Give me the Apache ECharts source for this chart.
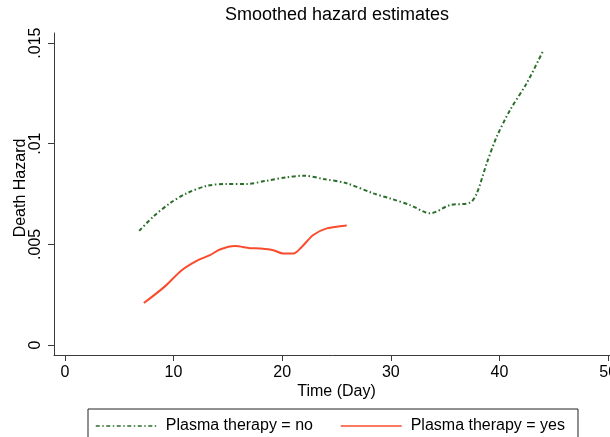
<!DOCTYPE html>
<html>
<head>
<meta charset="utf-8">
<script src="https://cdn.jsdelivr.net/npm/echarts@6/dist/echarts.min.js"></script>
<style>
  html, body { margin: 0; padding: 0; background: #fff; }
  #chart { width: 610px; height: 437px; }
</style>
</head>
<body>
<div id="chart"></div>
<script>
// smoothed hazard, no plasma therapy
var noDays = [6.84, 8.13, 9.67, 11.2, 13.05, 14.89, 16.73, 18.57, 20.41, 21.94, 23.78, 25.94, 28.39, 29.93, 31.77, 33.61, 35.45, 37.29, 37.91, 38.83, 39.75, 40.98, 42.51, 43.99];
var noHazard = [0.00567, 0.00637, 0.00704, 0.00753, 0.0079, 0.008, 0.008, 0.00816, 0.00833, 0.00841, 0.00825, 0.00803, 0.00753, 0.00728, 0.00695, 0.00654, 0.00695, 0.00707, 0.00753, 0.00903, 0.01035, 0.01168, 0.01301, 0.01459];

// smoothed hazard, plasma therapy
var yesDays = [7.27, 9.21, 10.75, 12.13, 13.35, 14.27, 15.65, 17.03, 17.96, 19.18, 20.1, 21.03, 21.8, 22.86, 24.1, 25.94];
var yesHazard = [0.00208, 0.00291, 0.00371, 0.00418, 0.00446, 0.00474, 0.00491, 0.00481, 0.00479, 0.00471, 0.00454, 0.00454, 0.00487, 0.00546, 0.00579, 0.00594];

var xTicks = [0, 10, 20, 30, 40, 50];
var yTicks = [0, 0.005, 0.01, 0.015];
var yTickLabels = ['0', '.005', '.01', '.015'];

function pairs(xs, ys) {
  var out = [];
  for (var i = 0; i < xs.length; i++) out.push([xs[i], ys[i]]);
  return out;
}

var font = '"Liberation Sans", Arial, sans-serif';
var axisGrey = '#3a3a3a';

var chart = echarts.init(document.getElementById('chart'));
chart.setOption({
  backgroundColor: '#fff',
  animation: false,
  title: {
    text: 'Smoothed hazard estimates',
    left: 225,
    top: 6,
    padding: 0,
    textStyle: { fontFamily: font, fontSize: 18, fontWeight: 'normal', color: '#000' }
  },
  legend: {
    left: 88,
    top: 409,
    padding: [9, 13, 14, 7],
    itemGap: 27,
    itemWidth: 61,
    itemHeight: 10,
    borderColor: '#222',
    borderWidth: 1,
    itemStyle: { opacity: 0 },
    lineStyle: { width: 1.5 },
    textStyle: { fontFamily: font, fontSize: 16, color: '#000', padding: [0, 0, 0, 4] },
    data: ['Plasma therapy = no', 'Plasma therapy = yes']
  },
  grid: { left: 54, top: 33, width: 565, height: 322, outerBoundsMode: 'none' },
  xAxis: {
    type: 'value',
    min: -1,
    max: 51,
    name: 'Time (Day)',
    nameLocation: 'middle',
    nameGap: 29,
    nameMoveOverlap: false,
    nameTextStyle: { fontFamily: font, fontSize: 16, color: '#000' },
    axisLine: { onZero: false, lineStyle: { color: axisGrey, width: 1 } },
    axisTick: { customValues: xTicks, length: 6, lineStyle: { color: axisGrey } },
    axisLabel: { customValues: xTicks, margin: 10, fontFamily: font, fontSize: 16, color: '#000' },
    splitLine: { show: false }
  },
  yAxis: {
    type: 'value',
    min: -0.0005,
    max: 0.0155,
    name: 'Death Hazard',
    nameLocation: 'middle',
    nameRotate: 90,
    nameGap: 25,
    nameMoveOverlap: false,
    nameTextStyle: { fontFamily: font, fontSize: 16, color: '#000', padding: [0, 0, 0, 12] },
    axisLine: { onZero: false, lineStyle: { color: axisGrey, width: 1 } },
    axisTick: { customValues: yTicks, length: 6, lineStyle: { color: axisGrey } },
    axisLabel: {
      customValues: yTicks,
      rotate: 90,
      margin: 10,
      fontFamily: font,
      fontSize: 16,
      color: '#000',
      formatter: function (v) {
        var i = yTicks.indexOf(v);
        return i >= 0 ? yTickLabels[i] : '';
      }
    },
    splitLine: { show: false }
  },
  series: [
    {
      name: 'Plasma therapy = no',
      type: 'line',
      data: pairs(noDays, noHazard),
      symbol: 'none',
      smooth: 0.3,
      color: '#2a6e2a',
      lineStyle: { color: '#2a6e2a', width: 2, type: [4, 2.5, 1.5, 2.5] }
    },
    {
      name: 'Plasma therapy = yes',
      type: 'line',
      data: pairs(yesDays, yesHazard),
      symbol: 'none',
      smooth: 0.3,
      color: '#fa4b2c',
      lineStyle: { color: '#fa4b2c', width: 2 }
    }
  ]
});
</script>
</body>
</html>
